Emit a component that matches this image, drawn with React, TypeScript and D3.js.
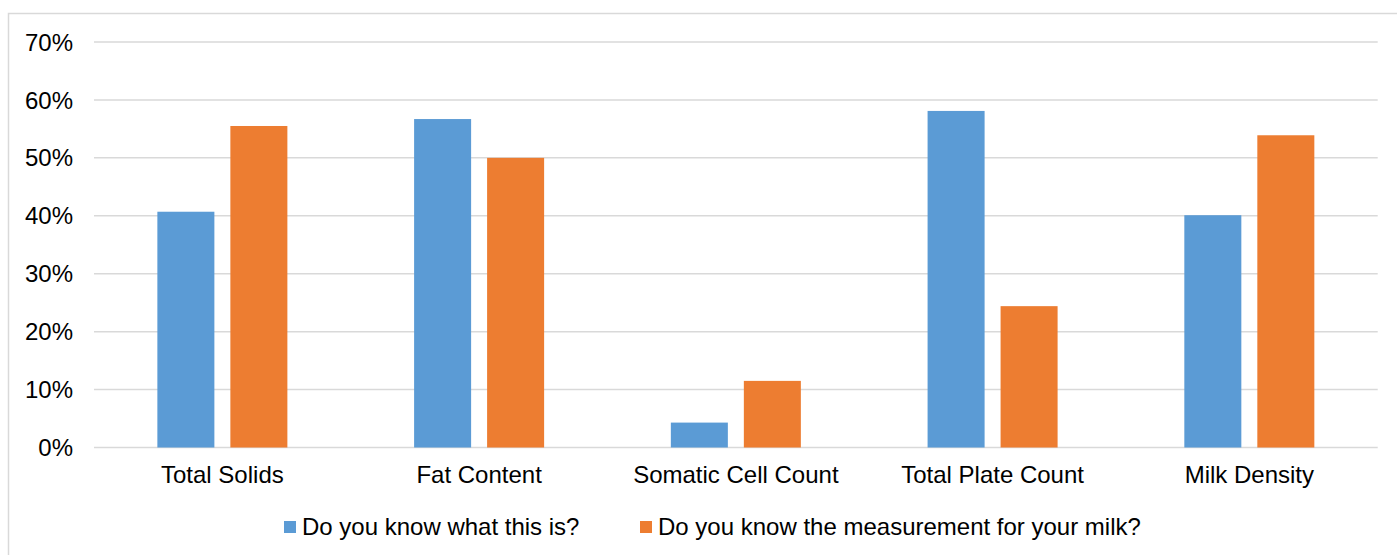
import React from "react";
import * as d3 from "d3";

const categories = ["Total Solids", "Fat Content", "Somatic Cell Count", "Total Plate Count", "Milk Density"];
const seriesNames = ["Do you know what this is?", "Do you know the measurement for your milk?"];
const knowWhat = [40.7, 56.7, 4.3, 58.1, 40.1];
const knowMeasurement = [55.5, 50.0, 11.5, 24.4, 53.9];
const yTicks = [0, 10, 20, 30, 40, 50, 60, 70];
const colors = ["#5B9BD5", "#ED7D31"];

const W = 1397;
const H = 555;
const FONT = "Liberation Sans, Arial, sans-serif";
const FS = 24;

export default function App() {
  const x0 = d3.scaleBand<string>().domain(categories).range([94, 1377.7]).paddingInner(0).paddingOuter(0);
  const x1 = d3
    .scaleBand<string>()
    .domain(seriesNames)
    .range([0, x0.bandwidth()])
    .paddingInner(0.219)
    .paddingOuter(0.868);
  const y = d3.scaleLinear().domain([0, 70]).range([447.5, 42]);
  const series = [knowWhat, knowMeasurement];

  return (
    <svg width={W} height={H} style={{ position: "absolute", left: 0, top: 0, display: "block", background: "#fff" }}>
      <rect x={8.5} y={13.5} width={1400} height={560} fill="#fff" stroke="#d9d9d9" strokeWidth={1.5} />
      {yTicks.map((t) => (
        <g key={t}>
          <line x1={94} x2={1377.7} y1={y(t)} y2={y(t)} stroke="#d9d9d9" strokeWidth={1.5} />
          <text x={73} y={y(t)} dy="0.36em" textAnchor="end" fontFamily={FONT} fontSize={FS} fill="#000">
            {d3.format(".0%")(t / 100)}
          </text>
        </g>
      ))}
      {categories.map((c, i) => (
        <g key={c} transform={`translate(${x0(c)},0)`}>
          {seriesNames.map((s, j) => (
            <rect
              key={s}
              x={x1(s)}
              y={y(series[j][i])}
              width={x1.bandwidth()}
              height={y(0) - y(series[j][i])}
              fill={colors[j]}
            />
          ))}
          <text x={x0.bandwidth() / 2} y={483} textAnchor="middle" fontFamily={FONT} fontSize={FS} fill="#000">
            {c}
          </text>
        </g>
      ))}
      <g>
        <rect x={284} y={521} width={12} height={12} fill={colors[0]} />
        <text x={302} y={535} fontFamily={FONT} fontSize={FS} fill="#000">
          {seriesNames[0]}
        </text>
        <rect x={640} y={521} width={12} height={12} fill={colors[1]} />
        <text x={658} y={535} fontFamily={FONT} fontSize={FS} fill="#000">
          {seriesNames[1]}
        </text>
      </g>
    </svg>
  );
}
